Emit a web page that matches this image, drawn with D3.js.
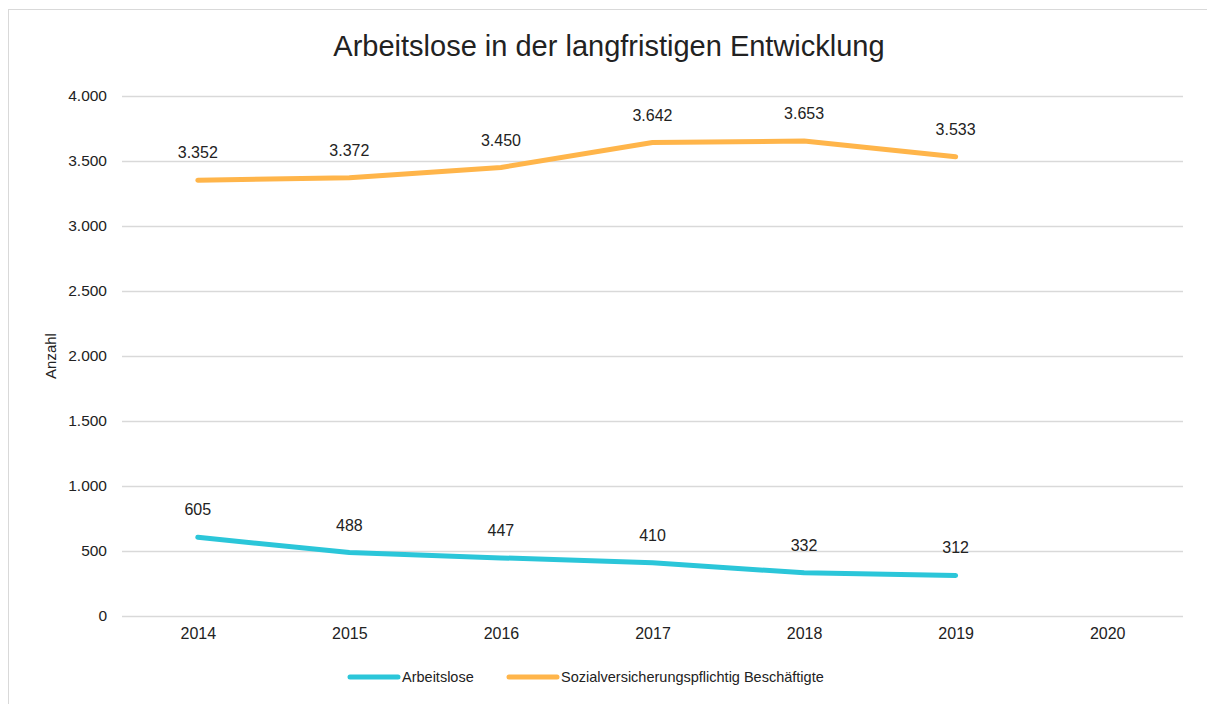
<!DOCTYPE html>
<html>
<head>
<meta charset="utf-8">
<script src="https://cdn.jsdelivr.net/npm/d3@7"></script>
<style>
    body { margin: 0; background: #fff; }
    text { font-family: "Liberation Sans", Arial, sans-serif; fill: #222; }
</style>
</head>
<body>
<script>
// Chart data
var years = ["2014", "2015", "2016", "2017", "2018", "2019", "2020"];
var arbeitslose = [605, 488, 447, 410, 332, 312];
var beschaeftigte = [3352, 3372, 3450, 3642, 3653, 3533];
var yTicks = [0, 500, 1000, 1500, 2000, 2500, 3000, 3500, 4000];

var seriesNames = ["Arbeitslose", "Sozialversicherungspflichtig Beschäftigte"];
var seriesColors = ["#2bc6d9", "#ffb54a"];

var W = 1207, H = 704;
var plot = {left: 122, right: 1183, top: 96, bottom: 616};

var de = d3.formatLocale({decimal: ",", thousands: ".", grouping: [3],
    currency: ["", " €"]});
var fmt = de.format(",d");

var svg = d3.select("body").append("svg")
    .attr("width", W)
    .attr("height", H);

// Outer chart border
svg.append("rect")
    .attr("x", 8.5).attr("y", 9.5)
    .attr("width", 1230).attr("height", 720)
    .attr("fill", "#fff")
    .attr("stroke", "#d9d9d9");

var x = d3.scalePoint()
    .domain(years)
    .range([plot.left, plot.right])
    .padding(0.5);

var y = d3.scaleLinear()
    .domain([0, 4000])
    .range([plot.bottom, plot.top]);

// Title
svg.append("text")
    .attr("x", 609).attr("y", 56)
    .attr("text-anchor", "middle")
    .style("font-size", "29px")
    .text("Arbeitslose in der langfristigen Entwicklung");

// Y axis with gridlines
var yAxis = svg.append("g")
    .attr("transform", "translate(" + plot.left + ",0)")
    .call(d3.axisLeft(y).tickValues(yTicks).tickFormat(fmt)
        .tickSize(-(plot.right - plot.left)).tickPadding(15));
yAxis.select(".domain").remove();
yAxis.selectAll("line").attr("stroke", "#d9d9d9").attr("stroke-width", 1.5);
yAxis.selectAll("text").style("font-size", "15.5px").attr("fill", "#222");

// X axis labels
var xAxis = svg.append("g")
    .attr("transform", "translate(0," + plot.bottom + ")")
    .call(d3.axisBottom(x).tickSize(0).tickPadding(12));
xAxis.select(".domain").remove();
xAxis.selectAll("text").style("font-size", "16px").attr("fill", "#222");

// Y axis title
svg.append("text")
    .attr("transform", "translate(56,356) rotate(-90)")
    .attr("text-anchor", "middle")
    .style("font-size", "15px")
    .text("Anzahl");

var line = d3.line()
    .x(function(d, i) { return x(years[i]); })
    .y(function(d) { return y(d); });

[arbeitslose, beschaeftigte].forEach(function(values, k) {
    svg.append("path")
        .datum(values)
        .attr("d", line)
        .attr("fill", "none")
        .attr("stroke", seriesColors[k])
        .attr("stroke-width", 5)
        .attr("stroke-linecap", "round")
        .attr("stroke-linejoin", "round");

    svg.selectAll(null)
        .data(values)
        .enter().append("text")
        .attr("x", function(d, i) { return x(years[i]); })
        .attr("y", function(d) { return y(d) - 22; })
        .attr("text-anchor", "middle")
        .style("font-size", "16px")
        .text(function(d) { return fmt(d); });
});

// Legend
var legendX = [350, 509];
seriesNames.forEach(function(name, k) {
    var g = svg.append("g")
        .attr("transform", "translate(" + legendX[k] + ",677)");
    g.append("line")
        .attr("x1", 0).attr("x2", 48)
        .attr("stroke", seriesColors[k])
        .attr("stroke-width", 5)
        .attr("stroke-linecap", "round");
    g.append("text")
        .attr("x", 52).attr("y", 5)
        .style("font-size", "14.5px")
        .text(name);
});
</script>
</body>
</html>
